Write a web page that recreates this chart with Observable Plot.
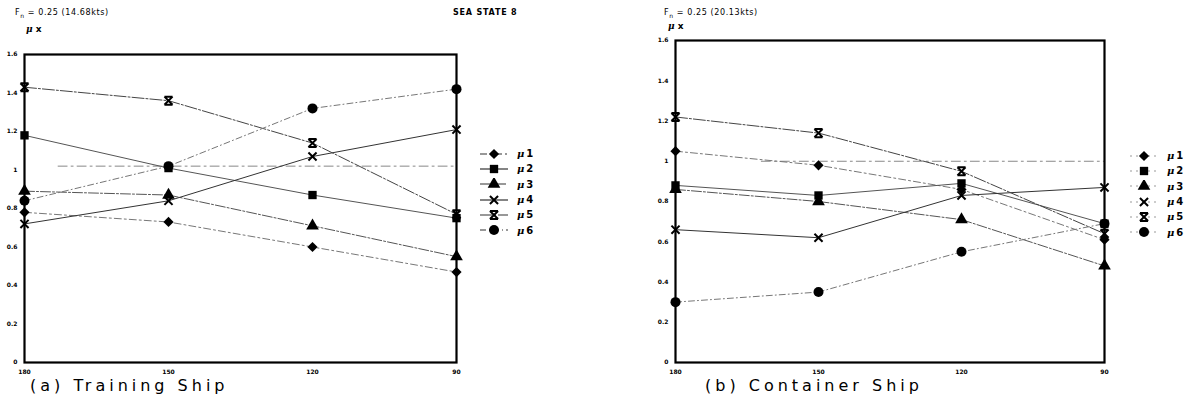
<!DOCTYPE html>
<html>
<head>
<meta charset="utf-8">
<script src="https://cdn.jsdelivr.net/npm/d3@7"></script>
<script src="https://cdn.jsdelivr.net/npm/@observablehq/plot@0.6"></script>
<style>
  html, body { margin: 0; padding: 0; background: #fff; }
  #page { position: relative; width: 1189px; height: 410px; overflow: hidden; background: #fff; font-family: "DejaVu Sans", sans-serif; color: #000; }
  .abs { position: absolute; white-space: nowrap; }
  .hdr { font-size: 8px; letter-spacing: 0.6px; }
  .mux { font-size: 9px; font-weight: bold; }
  .mux i { font-family: "DejaVu Serif", serif; }
  .sea { font-size: 8px; font-weight: bold; letter-spacing: 0.8px; }
  .cap { font-size: 16px; letter-spacing: 4px; }
  .leg { font-size: 10px; font-weight: bold; display: flex; align-items: center; height: 15.3px; }
  .leg i { font-family: "DejaVu Serif", serif; margin-right: 2px; }
  .leg svg { margin-right: 8px; }
</style>
</head>
<body>
<div id="page"></div>
<script>
// ---------- data ----------
const angles = [180, 150, 120, 90];
const seriesNames = ["μ1", "μ2", "μ3", "μ4", "μ5", "μ6"];
const yTicks = [0, 0.2, 0.4, 0.6, 0.8, 1.0, 1.2, 1.4, 1.6];

// (a) Training Ship, Fn = 0.25 (14.68kts)
const train_mu1 = [0.78, 0.73, 0.60, 0.47];
const train_mu2 = [1.18, 1.01, 0.87, 0.75];
const train_mu3 = [0.89, 0.87, 0.71, 0.55];
const train_mu4 = [0.72, 0.84, 1.07, 1.21];
const train_mu5 = [1.43, 1.36, 1.14, 0.77];
const train_mu6 = [0.84, 1.02, 1.32, 1.42];
const train_refAngles = [173, 90];
const train_refLevel = 1.02;

// (b) Container Ship, Fn = 0.25 (20.13kts)
const cont_mu1 = [1.05, 0.98, 0.86, 0.61];
const cont_mu2 = [0.88, 0.83, 0.89, 0.69];
const cont_mu3 = [0.86, 0.80, 0.71, 0.48];
const cont_mu4 = [0.66, 0.62, 0.83, 0.87];
const cont_mu5 = [1.22, 1.14, 0.95, 0.64];
const cont_mu6 = [0.30, 0.35, 0.55, 0.69];
const cont_refAngles = [162, 90];
const cont_refLevel = 1.0;

// ---------- symbols ----------
const hourglassX = {
  draw(ctx, size) {
    const r = Math.sqrt(size) * 0.52;
    ctx.moveTo(-r, -r); ctx.lineTo(r, r);
    ctx.moveTo(r, -r); ctx.lineTo(-r, r);
    ctx.moveTo(-r, -r); ctx.lineTo(r, -r);
    ctx.moveTo(-r, r); ctx.lineTo(r, r);
  }
};
const plainX = {
  draw(ctx, size) {
    const r = Math.sqrt(size) * 0.52;
    ctx.moveTo(-r, -r); ctx.lineTo(r, r);
    ctx.moveTo(r, -r); ctx.lineTo(-r, r);
  }
};
const seriesStyle = [
  {symbol: "diamond2", fill: "#000", stroke: "none", r: 4.6, dash: "7,3,2,3", lc: "#777"},
  {symbol: "square", fill: "#000", stroke: "none", r: 4.7, dash: null, lc: "#555"},
  {symbol: "triangle", fill: "#000", stroke: "none", r: 4.7, dash: "10,2,2,2", lc: "#555"},
  {symbol: plainX, fill: "none", stroke: "#000", r: 4.4, dash: null, lc: "#333"},
  {symbol: hourglassX, fill: "none", stroke: "#000", r: 4.4, dash: "12,2,2,2", lc: "#444"},
  {symbol: "circle", fill: "#000", stroke: "none", r: 5, dash: "6,3,1,3", lc: "#777"}
];

function toRows(arrs) {
  const rows = [];
  arrs.forEach((vals, i) => vals.forEach((v, j) => rows.push({series: seriesNames[i], idx: i, angle: angles[j], value: v})));
  return rows;
}

function panel(arrs, refAngles, refLevel, dims) {
  const rows = toRows(arrs);
  const marks = [];
  marks.push(Plot.line(refAngles.map(a => ({angle: a, value: refLevel})), {x: "angle", y: "value", stroke: "#888", strokeWidth: 1, strokeDasharray: "9,4,2,4"}));
  seriesStyle.forEach((s, i) => {
    const d = rows.filter(r => r.idx === i);
    marks.push(Plot.line(d, {x: "angle", y: "value", stroke: s.lc, strokeWidth: 1, strokeDasharray: s.dash || undefined}));
  });
  seriesStyle.forEach((s, i) => {
    const d = rows.filter(r => r.idx === i);
    marks.push(Plot.dot(d, {x: "angle", y: "value", symbol: s.symbol, r: s.r, fill: s.fill, stroke: s.stroke, strokeWidth: s.stroke === "none" ? 0 : 2}));
  });
  marks.push(Plot.frame({stroke: "#000", strokeWidth: 2.2}));
  return Plot.plot({
    width: dims.width, height: dims.height,
    marginLeft: dims.ml, marginRight: dims.mr, marginTop: dims.mt, marginBottom: dims.mb,
    style: {fontSize: "6px", fontFamily: "DejaVu Sans", fontWeight: "bold", background: "transparent", overflow: "visible"},
    x: {type: "linear", domain: [180, 90], ticks: angles, tickFormat: d => String(d), tickSize: 0, tickPadding: 7, label: null},
    y: {domain: [0, 1.6], ticks: yTicks, tickFormat: d => String(+d.toFixed(1)), tickSize: 0, tickPadding: 7, label: null},
    marks
  });
}

const page = document.getElementById("page");
function place(el, left, top) { el.style.position = "absolute"; el.style.left = left + "px"; el.style.top = top + "px"; page.appendChild(el); }

const left = panel([train_mu1, train_mu2, train_mu3, train_mu4, train_mu5, train_mu6], train_refAngles, train_refLevel,
  {width: 470, height: 380, ml: 24, mr: 14, mt: 54, mb: 18});
place(left, 0, 0);

const right = panel([cont_mu1, cont_mu2, cont_mu3, cont_mu4, cont_mu5, cont_mu6], cont_refAngles, cont_refLevel,
  {width: 520, height: 380, ml: 75, mr: 16, mt: 40, mb: 18});
place(right, 600, 0);

function addText(html, cls, left, top) {
  const d = document.createElement("div");
  d.className = "abs " + cls; d.innerHTML = html;
  d.style.left = left + "px"; d.style.top = top + "px";
  page.appendChild(d);
}
addText("F<sub style='font-size:6px'>n</sub> = 0.25 (14.68kts)", "hdr", 15, 8);
addText("<i>μ</i> x", "mux", 26, 24);
addText("SEA STATE 8", "sea", 453, 8);
addText("F<sub style='font-size:6px'>n</sub> = 0.25 (20.13kts)", "hdr", 664, 8);
addText("<i>μ</i> x", "mux", 668, 21);
addText("(a) Training Ship", "cap", 30, 376);
addText("(b) Container Ship", "cap", 705, 376);

function legend(left, top, lineMode) {
  const box = document.createElement("div");
  box.className = "abs";
  box.style.left = left + "px"; box.style.top = top + "px";
  seriesStyle.forEach((s, i) => {
    const row = document.createElement("div");
    row.className = "leg";
    const svg = d3.create("svg").attr("width", 30).attr("height", 12);
    svg.append("line").attr("x1", 1).attr("x2", 29).attr("y1", 6).attr("y2", 6)
      .attr("stroke", lineMode ? "#333" : "#999").attr("stroke-width", 1.2)
      .attr("stroke-dasharray", lineMode ? (s.dash || null) : "2,4");
    const typ = typeof s.symbol === "string"
      ? ({diamond2: d3.symbolDiamond2, square: d3.symbolSquare, triangle: d3.symbolTriangle, circle: d3.symbolCircle})[s.symbol]
      : s.symbol;
    svg.append("path").attr("transform", "translate(15,6)")
      .attr("d", d3.symbol(typ, Math.PI * s.r * s.r)())
      .attr("fill", s.fill).attr("stroke", s.stroke).attr("stroke-width", s.stroke === "none" ? 0 : 2);
    row.appendChild(svg.node());
    const t = document.createElement("span");
    t.innerHTML = "<i>μ</i>" + seriesNames[i].slice(1);
    row.appendChild(t);
    box.appendChild(row);
  });
  page.appendChild(box);
}
legend(479, 146, true);
legend(1129, 148, false);
</script>
</body>
</html>
